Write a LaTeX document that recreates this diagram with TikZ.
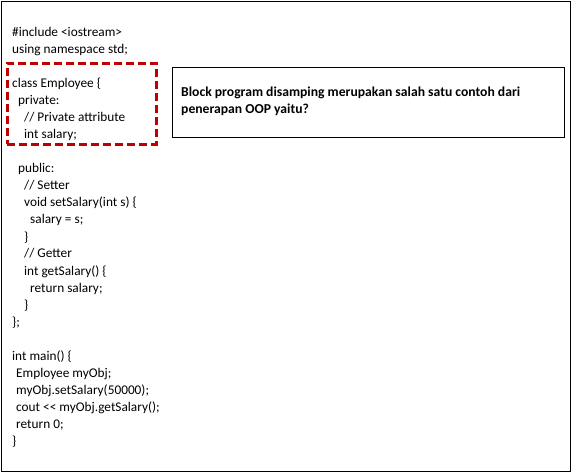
\documentclass[tikz,border=0pt]{standalone}
\usepackage{fontspec}
\setmainfont{Carlito}
\definecolor{boxred}{HTML}{C00000}
\newcommand{\codefont}{\fontsize{13.3}{17}\selectfont}
\newcommand{\qfont}{\fontsize{13.65}{17}\selectfont\bfseries}
\begin{document}
\begin{tikzpicture}[x=1pt,y=-1pt,
  code/.style={anchor=base west, inner sep=0pt, font=\codefont},
  qtext/.style={anchor=base west, inner sep=0pt, font=\qfont},
  frame/.style={draw=black, line width=1.2pt},
  hilite/.style={draw=boxred, line width=2.6pt, dash pattern=on 8pt off 4pt},
  qbox/.style={draw=black, line width=1pt}]
\useasboundingbox (0,0) rectangle (573,473);
\node[frame, minimum width=569pt, minimum height=470pt, inner sep=0pt, anchor=north west] (outer) at (1,1) {};
% code lines
\node[code] (l1) at (12,37) {\#include <iostream>};
\node[code] (l2) at (12,54) {using namespace std;};
\node[code] (l3) at (12,88) {class Employee \{};
\node[code] (l4) at (18,105) {private:};
\node[code] (l5) at (24,122) {// Private attribute};
\node[code] (l6) at (24,139) {int salary;};
\node[code] (l7) at (18,173) {public:};
\node[code] (l8) at (24,190) {// Setter};
\node[code] (l9) at (24,207) {void setSalary(int s) \{};
\node[code] (l10) at (30,224) {salary = s;};
\node[code] (l11) at (24,241) {\}};
\node[code] (l12) at (24,258) {// Getter};
\node[code] (l13) at (24,275) {int getSalary() \{};
\node[code] (l14) at (30,292) {return salary;};
\node[code] (l15) at (24,309) {\}};
\node[code] (l16) at (12,326) {\};};
\node[code] (l17) at (12,360) {int main() \{};
\node[code] (l18) at (16,377) {Employee myObj;};
\node[code] (l19) at (16,394) {myObj.setSalary(50000);};
\node[code] (l20) at (16,411) {cout <{}< myObj.getSalary();};
\node[code] (l21) at (16,428) {return 0;};
\node[code] (l22) at (12,445) {\}};
% red dashed highlight
\node[hilite, minimum width=149pt, minimum height=81pt, inner sep=0pt, anchor=north west] (hl) at (6,62) {};
% question box
\node[qbox, minimum width=392pt, minimum height=70pt, inner sep=0pt, anchor=north west] (qb) at (172,67) {};
\node[qtext] (q1) at (181,97) {Block program disamping merupakan salah satu contoh dari};
\node[qtext] (q2) at (181,114) {penerapan OOP yaitu?};
\end{tikzpicture}
\end{document}
